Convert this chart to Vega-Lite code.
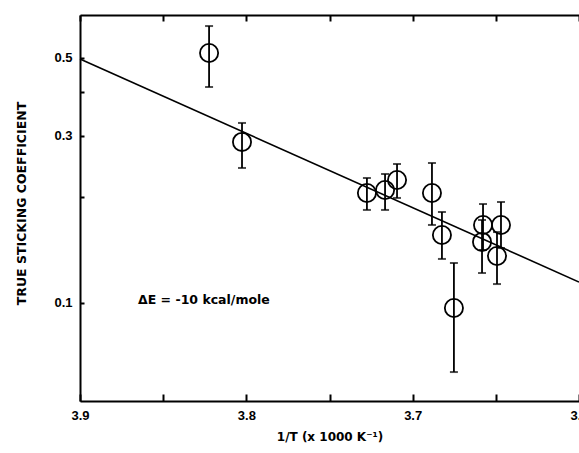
{
  "$schema": "https://vega.github.io/schema/vega-lite/v6.json",
  "width": 499,
  "height": 386,
  "autosize": {"type": "none"},
  "padding": {"left": 80, "top": 15, "right": 0, "bottom": 52},
  "background": "white",
  "config": {
    "view": {"stroke": null},
    "axis": {"grid": false, "domainColor": "black", "tickColor": "black", "labelColor": "black", "titleColor": "black"}
  },
  "datasets": {
    "pts": [
      {"x": 3.8224, "y": 0.5164, "lo": 0.4131, "hi": 0.6166},
      {"x": 3.8026, "y": 0.2880, "lo": 0.2427, "hi": 0.3262},
      {"x": 3.7275, "y": 0.2059, "lo": 0.1842, "hi": 0.2272},
      {"x": 3.7166, "y": 0.2100, "lo": 0.1842, "hi": 0.2333},
      {"x": 3.7094, "y": 0.2243, "lo": 0.1993, "hi": 0.2491},
      {"x": 3.6884, "y": 0.2059, "lo": 0.1669, "hi": 0.2507},
      {"x": 3.6824, "y": 0.1562, "lo": 0.1335, "hi": 0.1817},
      {"x": 3.6752, "y": 0.0967, "lo": 0.0635, "hi": 0.1300},
      {"x": 3.6577, "y": 0.1669, "lo": 0.1416, "hi": 0.1915},
      {"x": 3.6583, "y": 0.1493, "lo": 0.1217, "hi": 0.1724},
      {"x": 3.6469, "y": 0.1669, "lo": 0.1434, "hi": 0.1941},
      {"x": 3.6493, "y": 0.1361, "lo": 0.1132, "hi": 0.1593}
    ],
    "fit": [
      {"x": 3.9, "y": 0.4966},
      {"x": 3.6, "y": 0.1147}
    ],
    "note": [
      {"x": 3.8651, "y": 0.102, "label": "ΔE = -10 kcal/mole"}
    ]
  },
  "layer": [
    {
      "data": {"name": "fit"},
      "mark": {"type": "line", "color": "black", "strokeWidth": 1.6},
      "encoding": {
        "x": {
          "field": "x", "type": "quantitative",
          "scale": {"domain": [3.6, 3.9], "reverse": true, "nice": false, "zero": false},
          "axis": {
            "orient": "bottom",
            "values": [3.9, 3.85, 3.8, 3.75, 3.7, 3.65, 3.6],
            "labelExpr": "abs(datum.value*10 - round(datum.value*10)) < 0.001 ? format(datum.value, '.1f') : ''",
            "tickSize": -7, "tickWidth": 2,
            "domainWidth": 2,
            "labelFont": "Liberation Sans", "labelFontWeight": "bold", "labelFontSize": 13,
            "labelPadding": 15, "labelFlush": false, "labelOverlap": false, "labelBound": false,
            "labelBaseline": "top",
            "title": "1/T (x 1000 K⁻¹)",
            "titleFont": "DejaVu Sans", "titleFontWeight": "bold", "titleFontSize": 12,
            "titleY": 30, "titleBaseline": "top"
          }
        },
        "y": {
          "field": "y", "type": "quantitative",
          "scale": {"type": "log", "domain": [0.0525, 0.663], "nice": false},
          "axis": {
            "values": [0.5, 0.4, 0.3, 0.2, 0.1],
            "labelExpr": "(abs(datum.value-0.5)<0.001 || abs(datum.value-0.3)<0.001 || abs(datum.value-0.1)<0.001) ? format(datum.value, '.1f') : ''",
            "tickSize": -4, "tickWidth": 2,
            "domainWidth": 2,
            "labelFont": "Liberation Sans", "labelFontWeight": "bold", "labelFontSize": 13,
            "labelPadding": 12, "labelOverlap": false, "labelBound": false, "labelFlush": false,
            "title": "TRUE STICKING COEFFICIENT",
            "titleFont": "DejaVu Sans", "titleFontWeight": "bold", "titleFontSize": 12.5,
            "titleAngle": 270, "titleX": -59, "titleY": 188,
            "titleAlign": "center", "titleBaseline": "middle"
          }
        }
      }
    },
    {
      "data": {"name": "pts"},
      "mark": {"type": "rule", "color": "black", "strokeWidth": 1.8},
      "encoding": {
        "x": {
          "field": "x", "type": "quantitative",
          "axis": {
            "orient": "top",
            "values": [3.9, 3.85, 3.8, 3.75, 3.7, 3.65, 3.6],
            "labels": false, "tickSize": -6, "tickWidth": 2, "domainWidth": 2, "title": null
          }
        },
        "y": {"field": "lo", "type": "quantitative"},
        "y2": {"field": "hi"}
      }
    },
    {
      "data": {"name": "pts"},
      "mark": {"type": "tick", "orient": "horizontal", "color": "black", "size": 8, "thickness": 2},
      "encoding": {
        "x": {"field": "x", "type": "quantitative", "axis": null},
        "y": {"field": "lo", "type": "quantitative"}
      }
    },
    {
      "data": {"name": "pts"},
      "mark": {"type": "tick", "orient": "horizontal", "color": "black", "size": 8, "thickness": 2},
      "encoding": {
        "x": {"field": "x", "type": "quantitative", "axis": null},
        "y": {"field": "hi", "type": "quantitative"}
      }
    },
    {
      "data": {"name": "pts"},
      "mark": {"type": "point", "shape": "circle", "filled": false, "color": "black", "size": 330, "strokeWidth": 1.8, "opacity": 1},
      "encoding": {
        "x": {"field": "x", "type": "quantitative", "axis": null},
        "y": {"field": "y", "type": "quantitative"}
      }
    },
    {
      "data": {"name": "note"},
      "mark": {"type": "text", "align": "left", "baseline": "middle", "font": "DejaVu Sans", "fontWeight": "bold", "fontSize": 12.5, "color": "black"},
      "encoding": {
        "x": {"field": "x", "type": "quantitative", "axis": null},
        "y": {"field": "y", "type": "quantitative"},
        "text": {"field": "label"}
      }
    }
  ],
  "resolve": {"axis": {"x": "independent"}}
}
